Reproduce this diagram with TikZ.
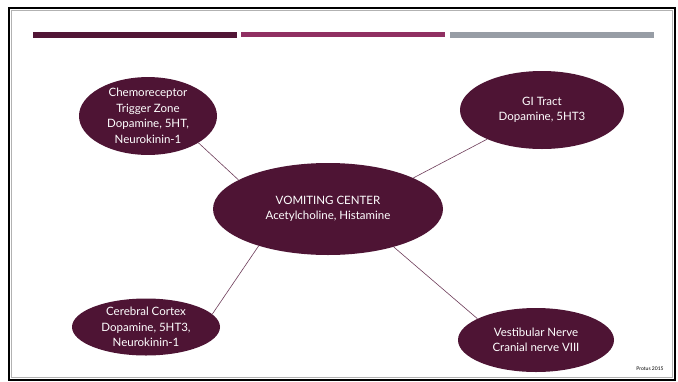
\documentclass[tikz,border=0pt]{standalone}
\usepackage{fontspec}
\setmainfont{Lato}
\usetikzlibrary{shapes.geometric}
\definecolor{plum}{HTML}{4E1434}
\definecolor{barone}{HTML}{521636}
\definecolor{bartwo}{HTML}{902F62}
\definecolor{barthree}{HTML}{979DA5}
\definecolor{linkcol}{HTML}{6E3D5A}
\tikzset{
  bubble/.style={ellipse, fill=plum, draw=none, inner sep=0pt, text=white,
    align=center, font=\fontsize{11.5}{15.5}\selectfont},
  link/.style={draw=linkcol, line width=0.6pt}
}
\begin{document}
\begin{tikzpicture}[x=1pt, y=-1pt]
\useasboundingbox (0,0) rectangle (678,381);
\fill[white] (0,0) rectangle (678,381);
% slide frame
\draw[gray!60, line width=0.8pt] (11.5,10.5) rectangle (672.5,377.5);
\draw[black, line width=2pt] (9,8) rectangle (675,380);
% title bars
\fill[barone] (33,32) rectangle (237,38);
\fill[bartwo] (241,32) rectangle (445,37);
\fill[barthree] (450,32) rectangle (654,38);
% nodes
\node[bubble, minimum width=230pt, minimum height=92pt] (vc) at (328,209)
  {VOMITING CENTER\\Acetylcholine, Histamine};
\node[bubble, minimum width=138pt, minimum height=76pt] (ctz) at (148,116)
  {Chemoreceptor\\Trigger Zone\\Dopamine, 5HT,\\Neurokinin-1};
\node[bubble, minimum width=164pt, minimum height=78pt] (gi) at (542,110)
  {GI Tract\\Dopamine, 5HT3};
\node[bubble, minimum width=148pt, minimum height=57pt] (cc) at (146,327)
  {Cerebral Cortex\\Dopamine, 5HT3,\\Neurokinin-1};
\node[bubble, minimum width=156pt, minimum height=64pt] (vn) at (536,340)
  {Vestibular Nerve\\Cranial nerve VIII};
% connectors
\draw[link] (ctz.-28) -- (vc.162);
\draw[link] (gi.208) -- (vc.20);
\draw[link] (cc.11) -- (vc.208);
\draw[link] (vn.160) -- (vc.-30);
% credit
\node[font=\fontsize{5}{6}\selectfont, inner sep=0pt] (credit) at (650,369) {Protus 2015};
\end{tikzpicture}
\end{document}
